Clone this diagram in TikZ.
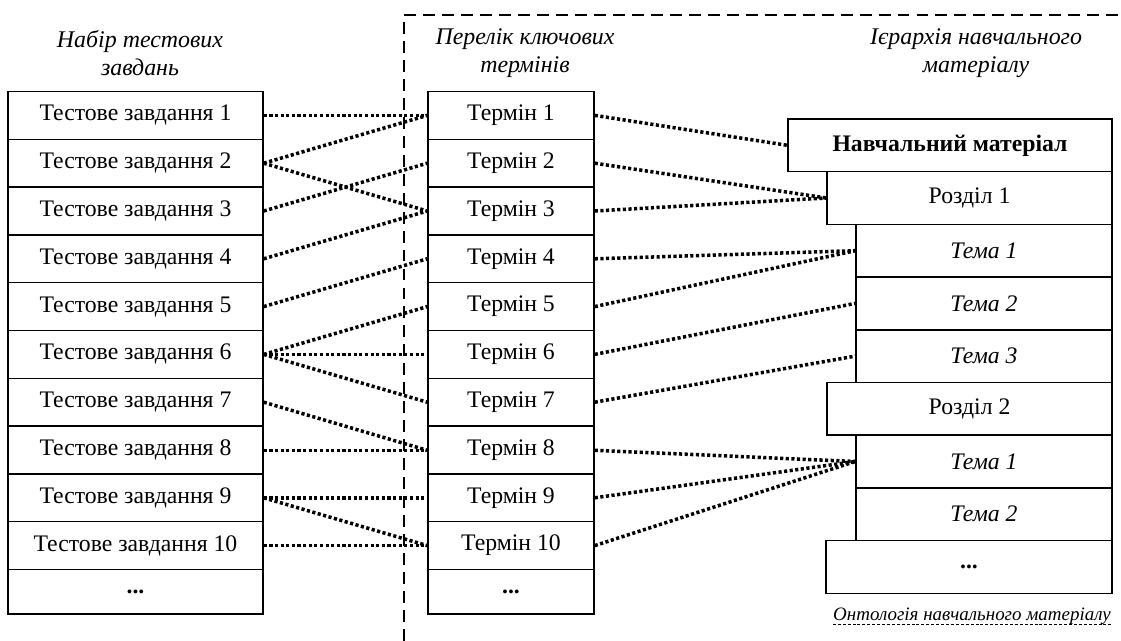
\documentclass[tikz,border=0pt]{standalone}
\usepackage{fontspec}
\setmainfont{Liberation Serif}
\usepackage{tikz}
\usetikzlibrary{positioning, calc}

\begin{document}
\begin{tikzpicture}[
  x=0.02cm, y=-0.02cm,
  tbox/.style={draw, line width=0.85pt, minimum width=5.1cm, minimum height=0.956cm, inner sep=0pt, font=\fontsize{13.5}{16}\selectfont},
  kbox/.style={tbox, minimum width=3.32cm},
  rbox/.style={draw, line width=0.85pt, minimum height=1.054cm, inner sep=0pt, font=\fontsize{13.5}{16}\selectfont},
  head/.style={align=center, font=\fontsize{13.6}{16}\selectfont\itshape},
  link/.style={line width=2pt, dash pattern=on 1.8pt off 1.4pt},
  frame/.style={line width=1.1pt, dash pattern=on 6.8pt off 4pt}
]
  \useasboundingbox (0,0) rectangle (1121,641);

  % headers
  \node[head] (hleft) at (140, 53) {Набір тестових\\завдань};
  \node[head] (hmid) at (525, 53) {Перелік ключових\\термінів};
  \node[head] (hright) at (976, 53) {Ієрархія навчального\\матеріалу};

  % test tasks
  \node[tbox] (t1) at (135.5, 115.4) {Тестове завдання 1};
  \node[tbox] (t2) at (135.5, 163.2) {Тестове завдання 2};
  \node[tbox] (t3) at (135.5, 211.0) {Тестове завдання 3};
  \node[tbox] (t4) at (135.5, 258.8) {Тестове завдання 4};
  \node[tbox] (t5) at (135.5, 306.6) {Тестове завдання 5};
  \node[tbox] (t6) at (135.5, 354.4) {Тестове завдання 6};
  \node[tbox] (t7) at (135.5, 402.2) {Тестове завдання 7};
  \node[tbox] (t8) at (135.5, 450.3) {Тестове завдання 8};
  \node[tbox] (t9) at (135.5, 497.8) {Тестове завдання 9};
  \node[tbox] (t10) at (135.5, 545.6) {Тестове завдання 10};
  \node[tbox, minimum height=0.894cm] (t11) at (135.5, 591.7) {\textbf{...}};

  % key terms
  \node[kbox] (k1) at (511, 115.4) {Термін 1};
  \node[kbox] (k2) at (511, 163.2) {Термін 2};
  \node[kbox] (k3) at (511, 211.0) {Термін 3};
  \node[kbox] (k4) at (511, 258.8) {Термін 4};
  \node[kbox] (k5) at (511, 306.6) {Термін 5};
  \node[kbox] (k6) at (511, 354.4) {Термін 6};
  \node[kbox] (k7) at (511, 402.2) {Термін 7};
  \node[kbox] (k8) at (511, 450.3) {Термін 8};
  \node[kbox] (k9) at (511, 497.8) {Термін 9};
  \node[kbox] (k10) at (511, 545.6) {Термін 10};
  \node[kbox, minimum height=0.894cm] (k11) at (511, 591.7) {\textbf{...}};

  % hierarchy
  \node[rbox, minimum width=6.48cm, font=\fontsize{13.5}{16}\selectfont\bfseries] (mat) at (950, 145.3) {Навчальний матеріал};
  \node[rbox, minimum width=5.7cm] (sec1) at (969.5, 198.0) {Розділ 1};
  \node[rbox, minimum width=5.12cm] (top11) at (984, 250.7) {\textit{Тема 1}};
  \node[rbox, minimum width=5.12cm] (top12) at (984, 303.4) {\textit{Тема 2}};
  \node[rbox, minimum width=5.12cm] (top13) at (984, 356.1) {\textit{Тема 3}};
  \node[rbox, minimum width=5.7cm] (sec2) at (969.5, 408.8) {Розділ 2};
  \node[rbox, minimum width=5.12cm] (top21) at (984, 461.5) {\textit{Тема 1}};
  \node[rbox, minimum width=5.12cm] (top22) at (984, 514.2) {\textit{Тема 2}};
  \node[rbox, minimum width=5.72cm] (more) at (969, 566.9) {\textbf{...}};

  \node[head, anchor=base, inner sep=0pt, font=\fontsize{10.8}{13}\selectfont\itshape] (onto) at (972, 620) {Онтологія навчального матеріалу};
  \draw[line width=0.55pt, dash pattern=on 1.7pt off 1.1pt] ([yshift=-2.3pt]onto.base west) -- ([yshift=-2.3pt]onto.base east);

  % ontology frame
  \draw[frame] (404, 641) -- (404, 15) -- (1121, 15);

  % tasks to terms
  \draw[link] (t1.east) -- (k1.west);
  \draw[link] (t2.east) -- (k1.west);
  \draw[link] (t2.east) -- (k3.west);
  \draw[link] (t3.east) -- (k2.west);
  \draw[link] (t4.east) -- (k3.west);
  \draw[link] (t5.east) -- (k4.west);
  \draw[link] (t6.east) -- (k5.west);
  \draw[link] (t6.east) -- (k6.west);
  \draw[link] (t6.east) -- (k7.west);
  \draw[link] (t7.east) -- (k8.west);
  \draw[link] (t8.east) -- (k8.west);
  \draw[link] (t9.east) -- (k9.west);
  \draw[link] (t9.east) -- (k10.west);
  \draw[link] (t10.east) -- (k10.west);

  % terms to hierarchy
  \draw[link] (k1.east) -- (mat.west);
  \draw[link] (k2.east) -- (sec1.west);
  \draw[link] (k3.east) -- (sec1.west);
  \draw[link] (k4.east) -- (top11.west);
  \draw[link] (k5.east) -- (top11.west);
  \draw[link] (k6.east) -- (top12.west);
  \draw[link] (k7.east) -- (top13.west);
  \draw[link] (k8.east) -- (top21.west);
  \draw[link] (k9.east) -- (top21.west);
  \draw[link] (k10.east) -- (top21.west);
\end{tikzpicture}
\end{document}
